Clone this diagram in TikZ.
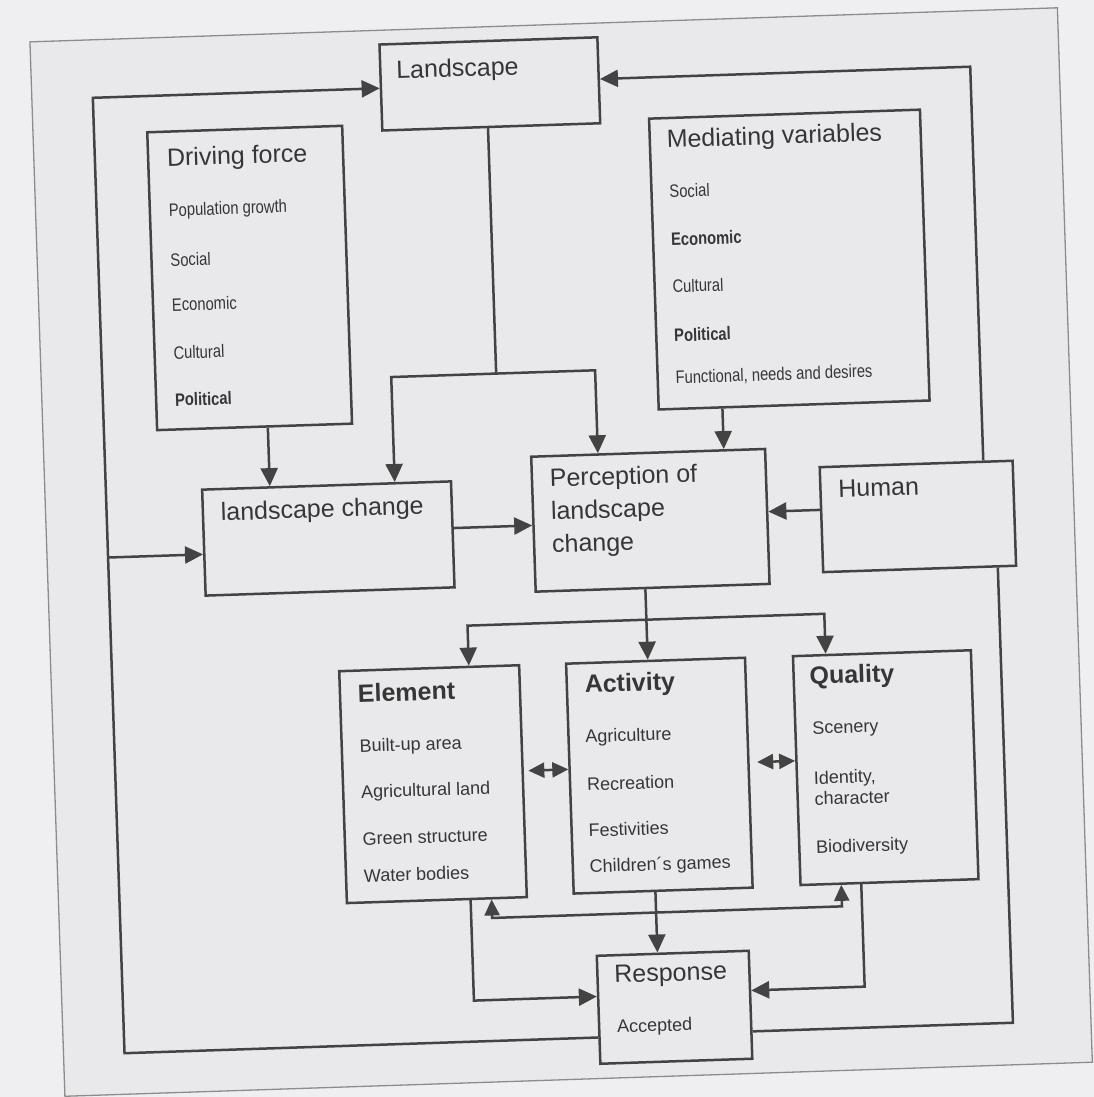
\documentclass[tikz,border=0pt]{standalone}
\usepackage{fontspec}
\setmainfont{Liberation Sans}
\newfontfamily\narrowfont[FakeStretch=0.82]{Liberation Sans}
\usetikzlibrary{arrows.meta,calc}
\definecolor{bgcol}{HTML}{EFEFF1}
\definecolor{pagecol}{HTML}{E9E9EC}
\definecolor{ink}{HTML}{434343}
\definecolor{txt}{HTML}{363636}
\definecolor{framecol}{HTML}{8C8C8C}
\begin{document}
\begin{tikzpicture}[x=1pt,y=-1pt,
  box/.style={draw=ink, line width=2.5pt, inner sep=0pt, anchor=north west},
  conn/.style={draw=ink, line width=2.5pt},
  arr/.style={conn, -{Triangle[length=18pt,width=17pt]}},
  darr/.style={conn, {Triangle[length=16pt,width=15pt]}-{Triangle[length=16pt,width=15pt]}},
  title/.style={anchor=base west, inner sep=0pt, text=txt, font=\fontsize{25}{30}\selectfont},
  btitle/.style={anchor=base west, inner sep=0pt, text=txt, font=\fontsize{25}{30}\selectfont\bfseries},
  item/.style={anchor=base west, inner sep=0pt, text=txt, font=\fontsize{18}{22}\selectfont},
  nitem/.style={anchor=base west, inner sep=0pt, text=txt, font=\narrowfont\fontsize{18}{22}\selectfont},
  nbitem/.style={anchor=base west, inner sep=0pt, text=txt, font=\narrowfont\bfseries\fontsize{18}{22}\selectfont},
]
\useasboundingbox (0,0) rectangle (1094,1097);
\fill[bgcol] (0,0) rectangle (1094,1097);
\begin{scope}[rotate around={1.9:(547,548)}, transform shape]
% scanned page frame
\draw[framecol, fill=pagecol, line width=1.3pt] (47,25) rectangle (1075,1080);

% boxes
\node[box, minimum width=218pt, minimum height=86pt]  (land)    at (395,38)  {};
\node[box, minimum width=195pt, minimum height=298pt] (drive)   at (160,118) {};
\node[box, minimum width=271pt, minimum height=291pt] (med)     at (662,121) {};
\node[box, minimum width=249pt, minimum height=106pt] (lchange) at (203,477) {};
\node[box, minimum width=234pt, minimum height=135pt] (perc)    at (533,455) {};
\node[box, minimum width=193pt, minimum height=105pt] (human)   at (821,475) {};
\node[box, minimum width=180pt, minimum height=232pt] (elem)    at (334,663) {};
\node[box, minimum width=179pt, minimum height=230pt] (act)     at (561,663) {};
\node[box, minimum width=178pt, minimum height=229pt] (qual)    at (788,663) {};
\node[box, minimum width=152pt, minimum height=108pt] (resp)    at (582,956) {};

% texts
\node[title] (tland) at (412,74) {Landscape};
\node[title] (tdrive) at (180,154) {Driving force};
\node[nitem] (d1) at (180,204) {Population growth};
\node[nitem] (d2) at (180,254) {Social};
\node[nitem] (d3) at (180,299) {Economic};
\node[nitem] (d4) at (180,347) {Cultural};
\node[nbitem] (d5) at (180,394) {Political};
\node[title] (tmed) at (680,152) {Mediating variables};
\node[nitem] (m1) at (681,202) {Social};
\node[nbitem] (m2) at (681,250) {Economic};
\node[nitem] (m3) at (681,297) {Cultural};
\node[nbitem] (m4) at (681,346) {Political};
\node[nitem] (m5) at (681,388) {Functional, needs and desires};
\node[title] (tlch) at (222,510) {landscape change};
\node[title] (tp1) at (552,487) {Perception of};
\node[title] (tp2) at (552,520) {landscape};
\node[title] (tp3) at (552,553) {change};
\node[title] (thum) at (840,507) {Human};
\node[btitle] (telem) at (353,696) {Element};
\node[item] (e1) at (353,746) {Built-up area};
\node[item] (e2) at (353,792) {Agricultural land};
\node[item] (e3) at (353,839) {Green structure};
\node[item] (e4) at (353,876) {Water bodies};
\node[btitle] (tact) at (580,694) {Activity};
\node[item] (a1) at (579,744) {Agriculture};
\node[item] (a2) at (579,792) {Recreation};
\node[item] (a3) at (579,838) {Festivities};
\node[item] (a4) at (579,874) {Children´s games};
\node[btitle] (tqual) at (805,693) {Quality};
\node[item] (q1) at (806,743) {Scenery};
\node[item] (q2) at (806,793) {Identity,};
\node[item] (q3) at (806,814) {character};
\node[item] (q4) at (806,862) {Biodiversity};
\node[title] (tresp) at (600,985) {Response};
\node[item] (r1) at (601,1035) {Accepted};

% bend points
\coordinate (L1) at (108,1039);
\coordinate (L2) at (108,83);
\coordinate (L3) at (108,543);
\coordinate (R1) at (997,1038);
\coordinate (R2) at (986,81);
\coordinate (J1) at (502,372);
\coordinate (J2) at (397,372);
\coordinate (J3) at (601,372);
\coordinate (D1) at (272,450);
\coordinate (M1) at (727,430);
\coordinate (C1) at (490,525);
\coordinate (H1) at (790,519);
\coordinate (P1) at (644,623);
\coordinate (P2) at (465,623);
\coordinate (P3) at (822,623);
\coordinate (DA1) at (521,770);
\coordinate (DA2) at (750,769);
\coordinate (B1) at (480,916);
\coordinate (B2) at (830,916);
\coordinate (E1) at (459,998);
\coordinate (Q1) at (850,997);

% outer left loop
\draw[arr] ($(resp.north west)!(L1)!(resp.south west)$) -- (L1) -- (L2) -- ($(land.north west)!(L2)!(land.south west)$);
\draw[arr] (L3) -- ($(lchange.north west)!(L3)!(lchange.south west)$);
% outer right loop
\draw[conn] ($(resp.north east)!(R1)!(resp.south east)$) -- (R1) -- ($(human.south west)!(R1)!(human.south east)$);
\draw[arr] ($(human.north west)!(R2)!(human.north east)$) -- (R2) -- ($(land.north east)!(R2)!(land.south east)$);
% landscape to change and perception
\draw[conn] ($(land.south west)!(J1)!(land.south east)$) -- (J1);
\draw[arr] (J1) -- (J2) -- ($(lchange.north west)!(J2)!(lchange.north east)$);
\draw[arr] (J1) -- (J3) -- ($(perc.north west)!(J3)!(perc.north east)$);
% driving force, mediating variables
\draw[arr] ($(drive.south west)!(D1)!(drive.south east)$) -- ($(lchange.north west)!(D1)!(lchange.north east)$);
\draw[arr] ($(med.south west)!(M1)!(med.south east)$) -- ($(perc.north west)!(M1)!(perc.north east)$);
% into perception
\draw[arr] ($(lchange.north east)!(C1)!(lchange.south east)$) -- ($(perc.north west)!(C1)!(perc.south west)$);
\draw[arr] ($(human.north west)!(H1)!(human.south west)$) -- ($(perc.north east)!(H1)!(perc.south east)$);
% perception to element / activity / quality
\draw[arr] ($(perc.south west)!(P1)!(perc.south east)$) -- ($(act.north west)!(P1)!(act.north east)$);
\draw[arr] (P1) -- (P2) -- ($(elem.north west)!(P2)!(elem.north east)$);
\draw[arr] (P1) -- (P3) -- ($(qual.north west)!(P3)!(qual.north east)$);
% double arrows
\draw[darr] (DA1) -- ($(act.north west)!(DA1)!(act.south west)$);
\draw[darr] (DA2) -- ($(qual.north west)!(DA2)!(qual.south west)$);
\draw[darr] ($(elem.south west)!(B1)!(elem.south east)$) -- (B1) -- (B2) -- ($(qual.south west)!(B2)!(qual.south east)$);
% into response
\draw[arr] ($(act.south west)!(P1)!(act.south east)$) -- ($(resp.north west)!(P1)!(resp.north east)$);
\draw[arr] ($(elem.south west)!(E1)!(elem.south east)$) -- (E1) -- ($(resp.north west)!(E1)!(resp.south west)$);
\draw[arr] ($(qual.south west)!(Q1)!(qual.south east)$) -- (Q1) -- ($(resp.north east)!(Q1)!(resp.south east)$);
\end{scope}
\end{tikzpicture}
\end{document}
